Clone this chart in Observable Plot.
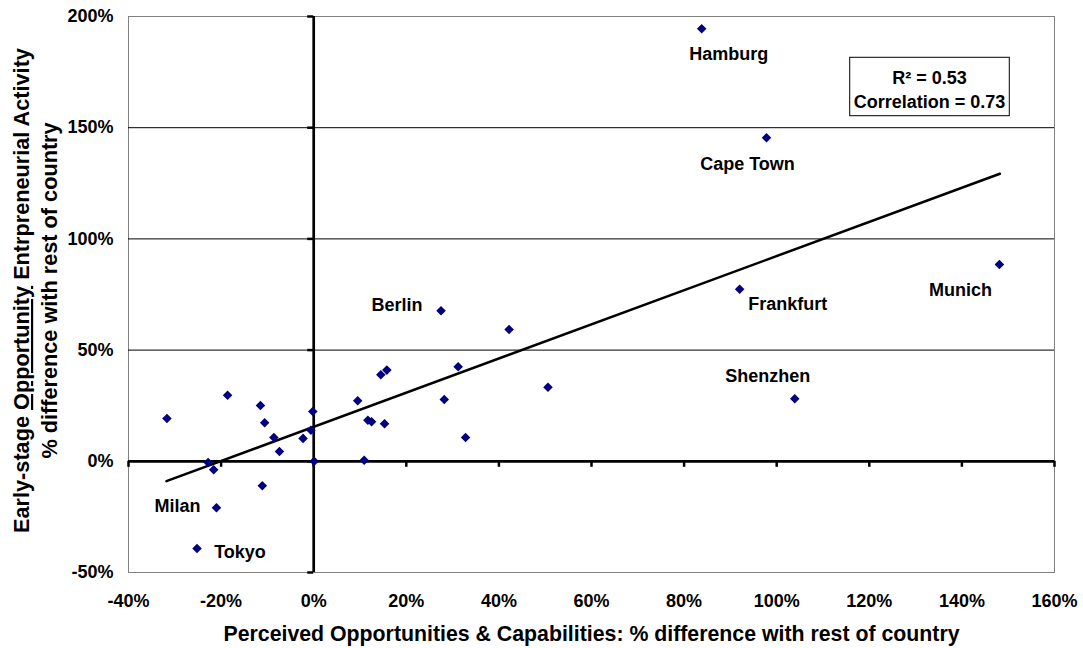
<!DOCTYPE html>
<html><head><meta charset="utf-8">
<script src="https://cdn.jsdelivr.net/npm/d3@7"></script>
<script src="https://cdn.jsdelivr.net/npm/@observablehq/plot@0.6"></script>
<style>
body{margin:0;background:#fff;}
</style>
</head><body><div id="chart"></div>
<script>
// Data (percent values)
const xVals = [-31.7,-18.6,-11.5,-10.6,-8.6,-7.4,-2.3,-0.2,-0.6,0.1,-22.8,-21.6,-11.1,-21.0,-25.2,9.5,27.5,42.2,31.2,15.8,14.5,50.6,28.2,11.7,12.5,15.3,32.8,10.9,83.8,97.8,92.0,148.1,103.9];
const yVals = [19.2,29.7,25.1,17.3,10.7,4.4,10.3,22.4,14.0,0.0,-0.5,-3.8,-11.0,-20.9,-39.2,27.2,67.7,59.3,42.5,41.0,38.9,33.3,27.8,18.5,17.8,16.9,10.7,0.5,194.5,145.5,77.4,88.5,28.1];
const cityNames = ["","","","","","","","","","","","","","Milan","Tokyo","","Berlin","","","","","","","","","","","","Hamburg","Cape Town","Frankfurt","Munich","Shenzhen"];
const xTicks = [-40,-20,0,20,40,60,80,100,120,140,160];
const yTicks = [-50,0,50,100,150,200];
const gridTicks = [50,100,150];
const trendX = [-31.8,148.2];
const trendY = [-8.9,129.3];
const xTitle = "Perceived Opportunities & Capabilities: % difference with rest of country";
const yTitleLines = ["Early-stage Opportunity Entrpreneurial Activity","% difference with rest of country"];
const underlinedWord = "Opportunity";
const statsLines = ["R² = 0.53","Correlation = 0.73"];

// label placement (pixel offsets from each labelled point)
const labelOffsets = {
  "Hamburg":[27,26], "Cape Town":[-19,27], "Frankfurt":[48,15], "Munich":[-39,26],
  "Shenzhen":[-27,-23], "Berlin":[-44,-6], "Milan":[-39,-2], "Tokyo":[43,4]
};

const points = xVals.map((x,i)=>({x, y:yVals[i], name:cityNames[i]}));
const labelled = points.filter(d=>d.name);
const trend = trendX.map((x,i)=>({x, y:trendY[i]}));
const pct = d => d + "%";
const FONT = "'Liberation Sans', Arial, Helvetica, sans-serif";

const chart = Plot.plot({
  width:1083, height:648,
  marginLeft:128, marginRight:29, marginTop:16, marginBottom:76,
  style:{fontFamily:FONT, fontSize:"18px", fontWeight:"bold", color:"#000", background:"#fff"},
  x:{domain:[-40,160], ticks:xTicks, tickFormat:pct, tickSize:0, tickPadding:22, label:null},
  y:{domain:[-50,200], ticks:yTicks, tickFormat:pct, tickSize:0, tickPadding:15, label:null},
  marks:[
    Plot.frame({stroke:"#808080", strokeWidth:1}),
    Plot.ruleY(gridTicks, {stroke:"#000", strokeWidth:1}),
    Plot.ruleY([0], {stroke:"#000", strokeWidth:2.7}),
    Plot.ruleX([0], {stroke:"#000", strokeWidth:2.7}),
    Plot.ruleX(xTicks, {x:d=>d, y1:0, y2:0, insetBottom:-6, stroke:"#000", strokeWidth:2.5}),
    Plot.ruleY(yTicks, {y:d=>d, x1:0, x2:0, insetLeft:-6, stroke:"#000", strokeWidth:2.5}),
    Plot.line(trend, {x:"x", y:"y", stroke:"#000", strokeWidth:2.5}),
    Plot.dot(points, {x:"x", y:"y", symbol:"diamond2", r:4.3, fill:"#000080", stroke:"none"}),
    ...labelled.map(d => Plot.text([d], {x:"x", y:"y", text:"name", dx:labelOffsets[d.name][0], dy:labelOffsets[d.name][1],
      fontSize:18, fontWeight:"bold", fill:"#000", textAnchor:"middle", lineAnchor:"middle"})),
    Plot.text([statsLines.join("\n")], {frameAnchor:"top-right", dx:-125, dy:72, textAnchor:"middle", lineAnchor:"middle",
      lineHeight:1.3, fontSize:18, fontWeight:"bold", fill:"#000"}),
    Plot.text([xTitle], {frameAnchor:"bottom", dy:62, textAnchor:"middle", lineAnchor:"middle", fontSize:21.3, fontWeight:"bold", fill:"#000"}),
    Plot.text([yTitleLines.join("\n")], {frameAnchor:"left", dx:-94.5, dy:-4, rotate:-90, textAnchor:"middle", lineAnchor:"middle",
      lineHeight:1.28, fontSize:21.7, fontWeight:"bold", fill:"#000"})
  ]
});
document.getElementById("chart").appendChild(chart);

const svg = d3.select(chart);
// underline the key word in the y-axis title
svg.selectAll("tspan").each(function(){
  if (this.textContent === yTitleLines[0]) {
    const t = d3.select(this);
    const [a, b] = yTitleLines[0].split(underlinedWord);
    t.text(null);
    t.append("tspan").text(a);
    t.append("tspan").style("text-decoration","underline").text(underlinedWord);
    t.append("tspan").text(b);
  }
});
// box around the statistics annotation
svg.selectAll("text").each(function(){
  if (this.textContent === statsLines.join("")) {
    const bb = this.getBBox();
    const ctm = this.getCTM();
    const g = this.parentNode;
    const gm = g.getCTM();
    const m = gm.inverse().multiply(ctm);
    d3.select(g).insert("rect", ":first-child")
      .attr("x", m.e + bb.x - 4).attr("y", m.f + bb.y - 11)
      .attr("width", bb.width + 8).attr("height", bb.height + 15)
      .attr("fill", "#fff").attr("stroke", "#000").attr("stroke-width", 1);
  }
});
</script>
</body></html>
